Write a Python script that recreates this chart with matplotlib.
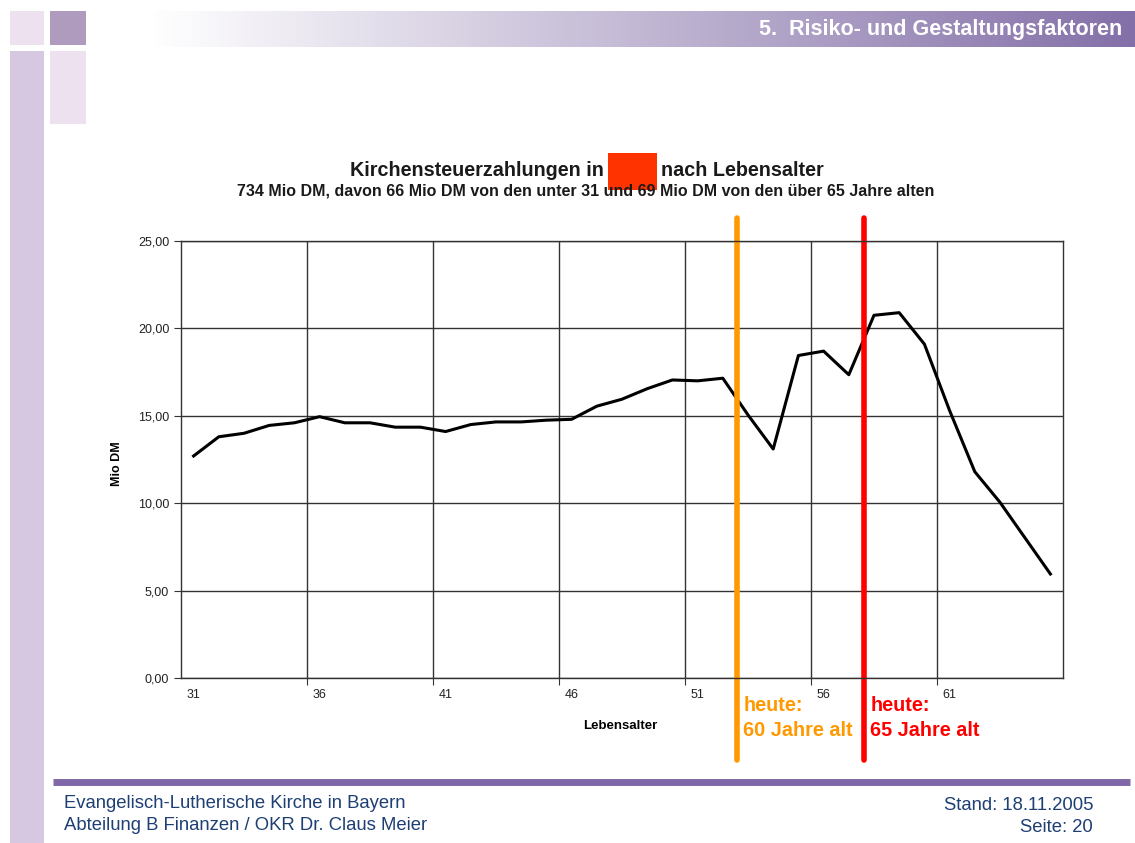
import numpy as np
import matplotlib.pyplot as plt
from matplotlib.colors import LinearSegmentedColormap
from matplotlib.transforms import blended_transform_factory

# Kirchensteuer je Lebensalter (Mio DM)
alter = list(range(31, 66))
mio_dm = [12.7, 13.8, 14.0, 14.45, 14.6, 14.95, 14.6, 14.6, 14.35, 14.35,
          14.1, 14.5, 14.65, 14.65, 14.75, 14.8, 15.55, 15.95, 16.55, 17.05,
          17.0, 17.15, 15.05, 13.1, 18.45, 18.7, 17.35, 20.75, 20.9, 19.1,
          15.3, 11.8, 10.05, 8.0, 5.95]
y_ticks = [0, 5, 10, 15, 20, 25]
x_labels = [31, 36, 41, 46, 51, 56, 61]

plt.rcParams['font.family'] = ['Liberation Sans', 'DejaVu Sans']

W, H = 1135, 843
fig = plt.figure(figsize=(W / 100, H / 100), dpi=100)

# Hintergrund in Pixelkoordinaten
bg = fig.add_axes([0, 0, 1, 1])
bg.set_xlim(0, W)
bg.set_ylim(H, 0)
bg.axis('off')

bg.add_patch(plt.Rectangle((10, 11), 34, 34, color='#ede1ef', lw=0))
bg.add_patch(plt.Rectangle((50, 11), 36, 34, color='#ae9bbe', lw=0))
bg.add_patch(plt.Rectangle((10, 51), 34, H - 51, color='#d6c8e0', lw=0))
bg.add_patch(plt.Rectangle((50, 51), 36, 73, color='#ede1ef', lw=0))

cmap = LinearSegmentedColormap.from_list('kopf', ['#ffffff', '#8470a8'])
grad = np.linspace(0, 1, 256).reshape(1, -1)
bg.imshow(grad, cmap=cmap, extent=(150, W, 47, 11), aspect='auto')
bg.text(1122, 30, '5.  Risiko- und Gestaltungsfaktoren', color='white',
        fontsize=15.5, fontweight='bold', ha='right', va='center')

bg.plot([53, 1130], [782, 782], color='#8068a8', lw=5, solid_capstyle='butt')
fusstext = '#1d3f73'
bg.text(64, 803, 'Evangelisch-Lutherische Kirche in Bayern', color=fusstext,
        fontsize=13.3, va='center')
bg.text(64, 826, 'Abteilung B Finanzen / OKR Dr. Claus Meier', color=fusstext,
        fontsize=13.3, va='center')
bg.text(1093, 806, 'Stand: 18.11.2005', color=fusstext, fontsize=13.3,
        ha='right', va='center')
bg.text(1093, 828, 'Seite: 20', color=fusstext, fontsize=13.3,
        ha='right', va='center')

# Titel
bg.text(604, 170, 'Kirchensteuerzahlungen in', fontsize=14.2, ha='right',
        va='center', fontweight='bold', color='#1a1a1a')
bg.add_patch(plt.Rectangle((608, 153), 49, 37, color='#ff3300', lw=0))
bg.text(661, 170, 'nach Lebensalter', fontsize=14.2, ha='left', va='center',
        fontweight='bold', color='#1a1a1a')
bg.text(586, 191, '734 Mio DM, davon 66 Mio DM von den unter 31 und 69 Mio DM '
        'von den über 65 Jahre alten', fontsize=11.5, fontweight='bold',
        ha='center', va='center', color='#1a1a1a')

# Diagramm
ax = fig.add_axes([181 / W, 1 - 678 / H, 882 / W, 437 / H])
ax.plot(alter, mio_dm, color='black', lw=2.2)
ax.set_xlim(30.5, 65.5)
ax.set_ylim(0, 25)

ax.set_xticks(np.arange(35.5, 65, 5))
ax.set_xticklabels([])
ax.set_xticks(x_labels, minor=True)
ax.set_xticklabels([str(a) for a in x_labels], minor=True)
ax.tick_params(axis='x', which='major', length=5, color='#333333')
ax.tick_params(axis='x', which='minor', length=0, pad=8, labelsize=9,
               labelcolor='#222222')
ax.set_yticks(y_ticks)
ax.set_yticklabels([f'{v:.2f}'.replace('.', ',') for v in y_ticks])
ax.tick_params(axis='y', length=5, labelsize=9, color='#333333',
               labelcolor='#222222')
ax.grid(True, which='major', color='#333333', lw=1)
for s in ax.spines.values():
    s.set_color('#333333')
    s.set_linewidth(1)

ax.set_ylabel('Mio DM', fontsize=9, fontweight='bold')
ax.yaxis.set_label_coords(-0.066, 0.49)
ax.set_xlabel('Lebensalter', fontsize=9.5, fontweight='bold')
ax.xaxis.set_label_coords(0.498, -0.096)

# Markierungen "heute"
trans = blended_transform_factory(ax.transData, ax.transAxes)
marken = [(52.56, '#ff9900', '60 Jahre alt'),
          (57.6, '#ff0000', '65 Jahre alt')]
for xpos, farbe, txt in marken:
    ax.plot([xpos, xpos], [-0.188, 1.053], transform=trans, color=farbe,
            lw=4, clip_on=False, solid_capstyle='round')
    ax.text(xpos + 0.25, -0.064, 'heute:', transform=trans, color=farbe,
            fontsize=14.3, fontweight='bold', va='center', ha='left')
    ax.text(xpos + 0.25, -0.119, txt, transform=trans, color=farbe,
            fontsize=14.3, fontweight='bold', va='center', ha='left')

fig.savefig('out.png', dpi=100)
